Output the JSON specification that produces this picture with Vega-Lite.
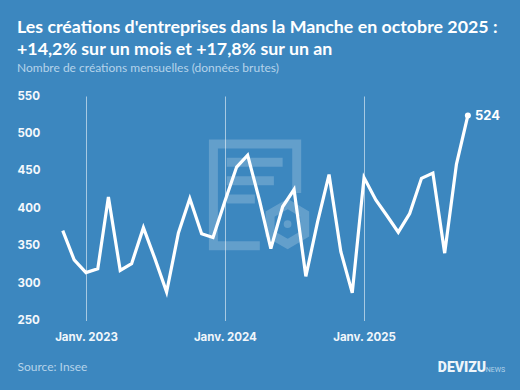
{"$schema":"https://vega.github.io/schema/vega-lite/v6.json","width":520,"height":224.5,"autosize":"none","padding":{"left":0,"right":0,"top":96,"bottom":69.5},"background":"#3C87BF","view":{"stroke":null},
"datasets":{"series":[{"m":"2022-11-01","v":370},{"m":"2022-12-01","v":331},{"m":"2023-01-01","v":314},{"m":"2023-02-01","v":319},{"m":"2023-03-01","v":415},{"m":"2023-04-01","v":317},{"m":"2023-05-01","v":326},{"m":"2023-06-01","v":374},{"m":"2023-07-01","v":333},{"m":"2023-08-01","v":288},{"m":"2023-09-01","v":367},{"m":"2023-10-01","v":413},{"m":"2023-11-01","v":366},{"m":"2023-12-01","v":361},{"m":"2024-01-01","v":409},{"m":"2024-02-01","v":455},{"m":"2024-03-01","v":471},{"m":"2024-04-01","v":411},{"m":"2024-05-01","v":346},{"m":"2024-06-01","v":402},{"m":"2024-07-01","v":425},{"m":"2024-08-01","v":309},{"m":"2024-09-01","v":382},{"m":"2024-10-01","v":445},{"m":"2024-11-01","v":342},{"m":"2024-12-01","v":287},{"m":"2025-01-01","v":441},{"m":"2025-02-01","v":411},{"m":"2025-03-01","v":391},{"m":"2025-04-01","v":368},{"m":"2025-05-01","v":393},{"m":"2025-06-01","v":440},{"m":"2025-07-01","v":447},{"m":"2025-08-01","v":340},{"m":"2025-09-01","v":459},{"m":"2025-10-01","v":524}],
"last":[{"m":"2025-10-01","v":524}],
"watermark":[
{"part":"doc","o":1,"m":"2024-07-08","v":420.4},{"part":"doc","o":2,"m":"2024-07-08","v":485.9},{"part":"doc","o":3,"m":"2023-12-02","v":485.9},{"part":"doc","o":4,"m":"2023-12-02","v":350},{"part":"doc","o":5,"m":"2024-04-02","v":350},
{"part":"l1","o":1,"m":"2024-01-06","v":461.4},{"part":"l1","o":2,"m":"2024-06-01","v":461.4},
{"part":"l2","o":1,"m":"2024-01-06","v":436.8},{"part":"l2","o":2,"m":"2024-05-09","v":436.8},
{"part":"l3","o":1,"m":"2024-01-06","v":412.4},{"part":"l3","o":2,"m":"2024-03-20","v":412.4},
{"part":"hex","o":1,"m":"2024-07-29","v":379},{"part":"hex","o":2,"m":"2024-07-29","v":392.3},{"part":"hex","o":3,"m":"2024-06-14","v":405.7},{"part":"hex","o":4,"m":"2024-04-29","v":392.3},{"part":"hex","o":5,"m":"2024-04-29","v":365.6},{"part":"hex","o":6,"m":"2024-06-14","v":352.2},{"part":"hex","o":7,"m":"2024-07-29","v":365.6},{"part":"hex","o":8,"m":"2024-07-29","v":379}
]},
"data":{"name":"series"},
"config":{"axis":{"labelOverlap":false}},
"title":{"text":["Les créations d'entreprises dans la Manche en octobre 2025 :","+14,2% sur un mois et +17,8% sur un an"],"subtitle":"Nombre de créations mensuelles (données brutes)","anchor":"start","frame":"group","offset":16,"dx":17,"font":"Lato","fontWeight":"bold","fontSize":17.8,"lineHeight":22,"color":"#ffffff","subtitleFont":"Lato","subtitleFontSize":12,"subtitleColor":"#b5d3ea","subtitlePadding":4},
"encoding":{"x":{"field":"m","type":"temporal","scale":{"domain":["2022-05-20","2026-02-15"]},
"axis":{"values":["2023-01-01","2024-01-01","2025-01-01"],"format":"Janv. %Y","labelOverlap":false,"domain":false,"ticks":false,"grid":true,"gridColor":"#ffffff","gridOpacity":0.55,"gridWidth":1,"labelFont":"Inter","labelFontWeight":"bold","labelFontSize":11.5,"labelColor":"#f0f6fb","labelPadding":11,"title":"Source: Insee","titleFont":"Lato","titleFontWeight":"normal","titleFontSize":12,"titleColor":"#b5d3ea","titleAnchor":"start","titleAlign":"left","titleX":17,"titleY":41}},
"y":{"field":"v","type":"quantitative","scale":{"domain":[250,550],"nice":false,"zero":false},
"axis":{"values":[250,300,350,400,450,500,550],"labelOverlap":false,"labelSeparation":0,"domain":false,"ticks":false,"grid":false,"labelAlign":"left","labelPadding":0,"labelFont":"Inter","labelFontWeight":"bold","labelFontSize":11.5,"labelColor":"#f4f8fc","offset":-17,"title":null}}},
"layer":[
{"data":{"name":"watermark"},"mark":{"type":"line","color":"#ffffff","opacity":0.2,"strokeWidth":9,"strokeJoin":"miter","strokeCap":"butt"},"encoding":{"detail":{"field":"part"},"order":{"field":"o"}}},
{"data":{"values":[{"m":"2024-06-14","v":378.9}]},"mark":{"type":"point","filled":true,"color":"#ffffff","size":60,"opacity":0.2}},
{"mark":{"type":"line","color":"#ffffff","strokeWidth":3.2,"strokeJoin":"miter"}},
{"data":{"name":"last"},"mark":{"type":"point","filled":true,"color":"#ffffff","size":36,"opacity":1}},
{"data":{"name":"last"},"mark":{"type":"text","align":"left","dx":7,"dy":1,"font":"Inter","fontWeight":"bold","fontSize":13,"color":"#ffffff"},"encoding":{"text":{"field":"v","type":"quantitative"}}},
{"data":{"values":[{"m":"2025-07-14","v":186.5,"t":"DEVIZU"}]},"mark":{"type":"text","align":"left","baseline":"middle","font":"Roboto","fontWeight":900,"fontSize":14,"color":"#eef5fa"},"encoding":{"text":{"field":"t"}}},
{"data":{"values":[{"m":"2025-11-17","v":183.5,"t":"NEWS"}]},"mark":{"type":"text","align":"left","baseline":"middle","font":"Roboto","fontSize":7,"color":"#b5d3ea"},"encoding":{"text":{"field":"t"}}}
]}
